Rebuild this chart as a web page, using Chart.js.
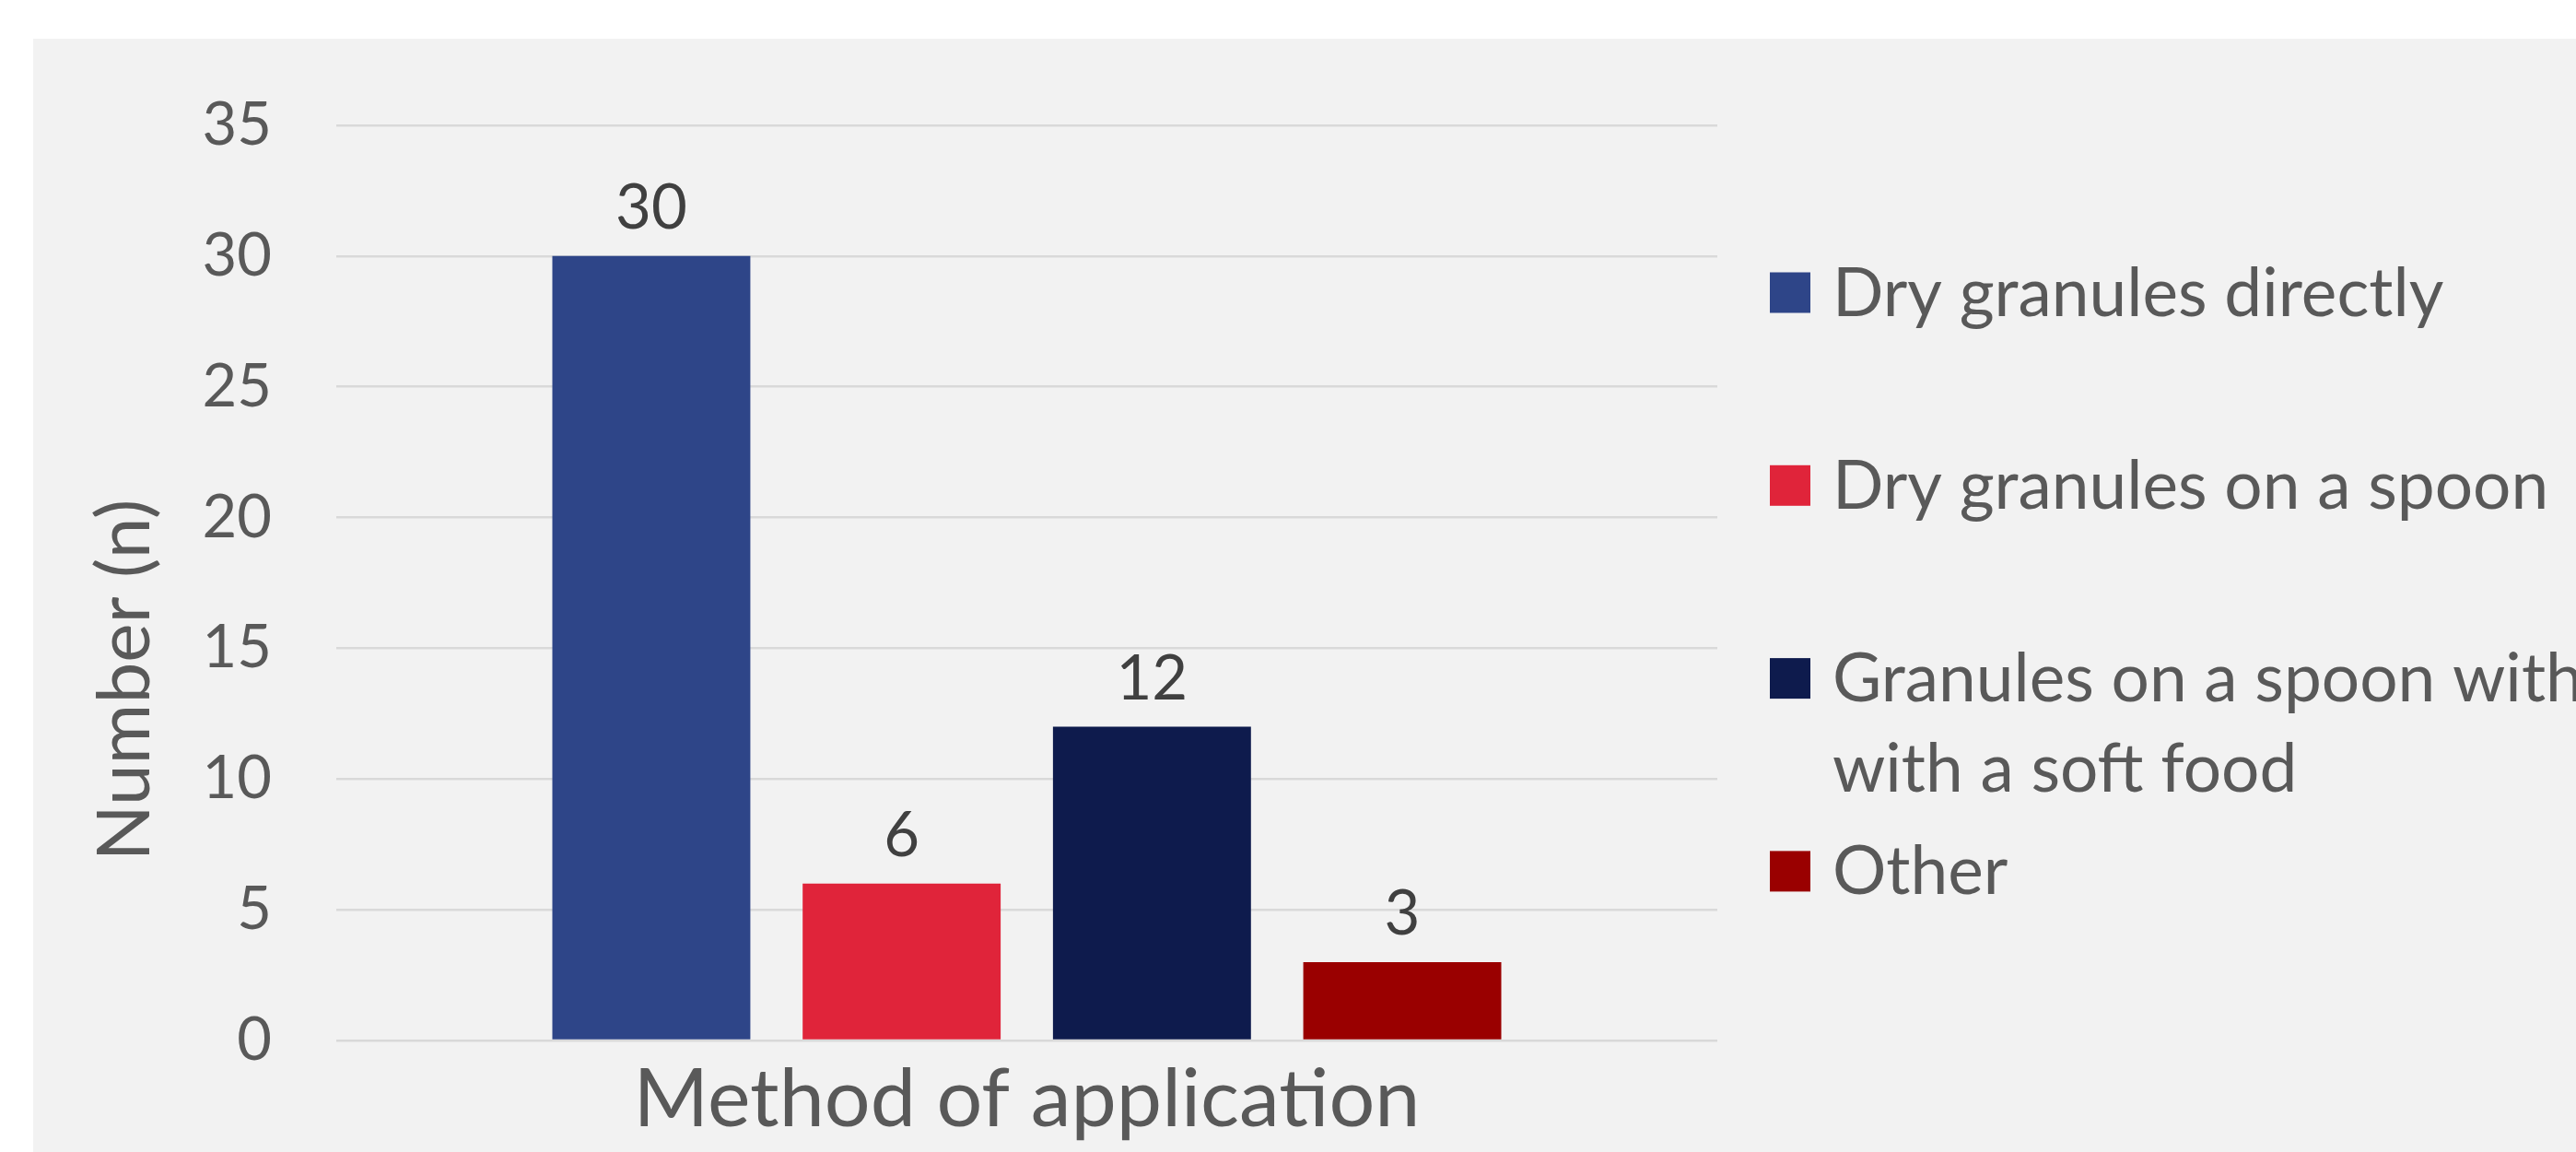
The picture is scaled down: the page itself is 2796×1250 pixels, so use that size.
<!DOCTYPE html>
<html>
<head>
<meta charset="utf-8">
<script src="https://cdn.jsdelivr.net/npm/chart.js@4/dist/chart.umd.min.js"></script>
<style>
  html, body { margin: 0; padding: 0; background: #ffffff; }
  #wrap { width: 2796px; height: 1250px; position: relative; }
  canvas { display: block; }
</style>
</head>
<body>
<div id="wrap"><canvas id="c" width="2796" height="1250"></canvas></div>
<script>
// ---- data ----
const categories = ['Method of application'];
const seriesNames = ['Dry granules directly', 'Dry granules on a spoon', 'Granules on a spoon with', 'Other'];
const legendLines = [['Dry granules directly'], ['Dry granules on a spoon'], ['Granules on a spoon with', 'with a soft food'], ['Other']];
const dryDirectly = [30];
const drySpoon = [6];
const spoonSoftFood = [12];
const other = [3];
const yTicks = [0, 5, 10, 15, 20, 25, 30, 35];
const yTitle = 'Number (n)';
const seriesColors = ['#2E4588', '#E0243A', '#0E1B4D', '#9A0000'];

const FONT = 'Lato, "Open Sans", sans-serif';

const panelPlugin = {
  id: 'panel',
  beforeDraw(chart) {
    const ctx = chart.ctx;
    ctx.save();
    ctx.fillStyle = '#F2F2F2';
    ctx.fillRect(36, 42, chart.width - 36, chart.height - 42);
    ctx.restore();
  }
};

const labelsPlugin = {
  id: 'valueLabels',
  afterDatasetsDraw(chart) {
    const ctx = chart.ctx;
    ctx.save();
    ctx.font = '67px ' + FONT;
    ctx.fillStyle = '#404040';
    ctx.textAlign = 'center';
    ctx.textBaseline = 'alphabetic';
    chart.data.datasets.forEach((ds, i) => {
      const meta = chart.getDatasetMeta(i);
      meta.data.forEach((bar, j) => {
        ctx.fillText(String(ds.data[j]), bar.x, bar.y - 30);
      });
    });
    ctx.restore();
  }
};

const legendPlugin = {
  id: 'customLegend',
  afterDraw(chart) {
    const ctx = chart.ctx;
    ctx.save();
    const x0 = 1921, box = 44, textX = 1989, startY = 317.5, step = 209.3;
    ctx.font = '73px ' + FONT;
    ctx.textAlign = 'left';
    ctx.textBaseline = 'alphabetic';
    chart.data.datasets.forEach((ds, i) => {
      const cy = startY + i * step;
      ctx.fillStyle = ds.backgroundColor;
      ctx.fillRect(x0, cy - box / 2, box, box);
      ctx.fillStyle = '#595959';
      legendLines[i].forEach((line, k) => {
        ctx.fillText(line, textX, cy + 25 + k * 98);
      });
    });
    ctx.restore();
  }
};

const yTitlePlugin = {
  id: 'yTitle',
  afterDraw(chart) {
    const ctx = chart.ctx;
    ctx.save();
    ctx.translate(162, 738);
    ctx.rotate(-Math.PI / 2);
    ctx.font = '80px ' + FONT;
    ctx.fillStyle = '#595959';
    ctx.textAlign = 'center';
    ctx.textBaseline = 'alphabetic';
    ctx.fillText(yTitle, 0, 0);
    ctx.restore();
  }
};

const datasetValues = [dryDirectly, drySpoon, spoonSoftFood, other];

new Chart(document.getElementById('c'), {
  type: 'bar',
  data: {
    labels: categories,
    datasets: datasetValues.map((vals, i) => ({
      label: seriesNames[i],
      data: vals,
      backgroundColor: seriesColors[i],
      borderWidth: 0,
      categoryPercentage: 0.725,
      barPercentage: 0.791
    }))
  },
  options: {
    responsive: false,
    devicePixelRatio: 1,
    animation: false,
    layout: { padding: { left: 0, right: 932, top: 136, bottom: 0 } },
    plugins: {
      legend: { display: false },
      tooltip: { enabled: false },
      title: { display: false }
    },
    scales: {
      x: {
        grid: { display: false, drawTicks: false },
        border: { display: false },
        ticks: {
          font: { family: FONT, size: 88 },
          color: '#595959',
          padding: 12
        },
        afterFit(scale) { scale.height = 121; }
      },
      y: {
        min: 0,
        max: 35,
        afterBuildTicks(scale) { scale.ticks = yTicks.map(v => ({ value: v })); },
        grid: { color: '#D9D9D9', lineWidth: 2.5, drawTicks: false },
        border: { display: false },
        ticks: {
          font: { family: FONT, size: 65 },
          color: '#595959',
          padding: 70
        },
        afterFit(scale) { scale.width = 365; }
      }
    }
  },
  plugins: [panelPlugin, labelsPlugin, legendPlugin, yTitlePlugin]
});
</script>
</body>
</html>
